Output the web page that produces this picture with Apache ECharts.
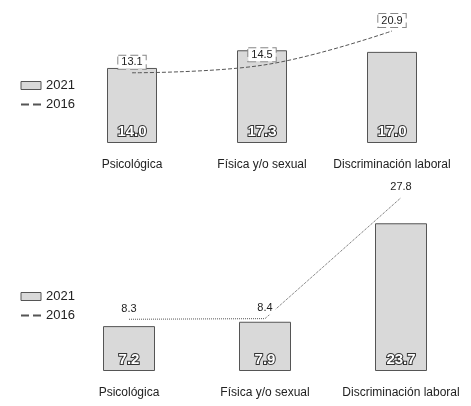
<!DOCTYPE html>
<html>
<head>
<meta charset="utf-8">
<script src="https://cdn.jsdelivr.net/npm/echarts@6/dist/echarts.min.js"></script>
<style>
  html, body { margin: 0; padding: 0; background: #fff; }
  #main { width: 471px; height: 406px; }
</style>
</head>
<body>
<div id="main"></div>
<script>
const categories = ['Psicológica', 'Física y/o sexual', 'Discriminación laboral']
// panel superior
const top2021 = [14.0, 17.3, 17.0]
const top2016 = [13.1, 14.5, 20.9]
// panel inferior
const bottom2021 = [7.2, 7.9, 23.7]
const bottom2016 = [8.3, 8.4, 27.8]

const chart = echarts.init(document.getElementById('main'))
const font = 'Liberation Sans'

const barLabel = {
  show: true,
  position: 'insideBottom',
  distance: 4,
  formatter: p => p.value.toFixed(1),
  color: '#fff',
  fontSize: 15,
  fontWeight: 'bold',
  fontFamily: font,
  textBorderColor: '#333',
  textBorderWidth: 2
}
const barStyle = { color: '#d9d9d9', borderColor: '#555', borderWidth: 1 }
const lineLabel = {
  show: true,
  position: 'top',
  distance: 3,
  formatter: p => p.value.toFixed(1),
  color: '#222',
  fontSize: 11,
  fontFamily: font,
  backgroundColor: '#fff',
  padding: [1, 3]
}
const lineStyle = { color: '#555', width: 1, type: 'dashed' }
const legendData = [
  { name: '2021', icon: 'rect', itemStyle: barStyle },
  { name: '2016', itemStyle: { opacity: 0 } }
]

chart.setOption({
  animation: false,
  textStyle: { fontFamily: font },
  legend: [{
    left: 15, top: 74, orient: 'vertical', itemGap: 6,
    itemWidth: 20, itemHeight: 8,
    textStyle: { fontSize: 13, color: '#222', fontFamily: font },
    data: legendData
  }, {
    left: 15, top: 285, orient: 'vertical', itemGap: 6,
    itemWidth: 20, itemHeight: 8,
    textStyle: { fontSize: 13, color: '#222', fontFamily: font },
    data: legendData
  }],
  grid: [
    { left: 67, right: 14, top: 9, bottom: 263 },
    { left: 61, right: 2, top: 184, bottom: 35 }
  ],
  xAxis: [0, 1].map(i => ({
    type: 'category', gridIndex: i, data: categories,
    axisLine: { show: false }, axisTick: { show: false },
    axisLabel: { interval: 0, margin: 16, fontSize: 12, color: '#222', fontFamily: font }
  })),
  yAxis: [
    { type: 'value', gridIndex: 0, min: 0, max: 25, show: false },
    { type: 'value', gridIndex: 1, min: 0, max: 30, show: false }
  ],
  series: [
    { name: '2021', type: 'bar', xAxisIndex: 0, yAxisIndex: 0, data: top2021,
      barWidth: 50, itemStyle: barStyle, label: barLabel },
    { name: '2016', type: 'line', xAxisIndex: 0, yAxisIndex: 0, data: top2016,
      smooth: 0.4, symbol: 'circle', symbolSize: 2, showAllSymbol: true,
      itemStyle: { color: 'rgba(0,0,0,0)' },
      lineStyle: lineStyle,
      label: Object.assign({}, lineLabel, { borderColor: '#888', borderWidth: 1, borderType: 'dashed' }),
      z: 5 },
    { name: '2021', type: 'bar', xAxisIndex: 1, yAxisIndex: 1, data: bottom2021,
      barWidth: 52, itemStyle: barStyle, label: barLabel },
    { name: '2016', type: 'line', xAxisIndex: 1, yAxisIndex: 1, data: bottom2016,
      smooth: false, symbol: 'circle', symbolSize: 2, showAllSymbol: true,
      itemStyle: { color: 'rgba(0,0,0,0)' },
      lineStyle: Object.assign({}, lineStyle, { type: 'dotted' }), label: lineLabel, z: 5 }
  ]
})
</script>
</body>
</html>
